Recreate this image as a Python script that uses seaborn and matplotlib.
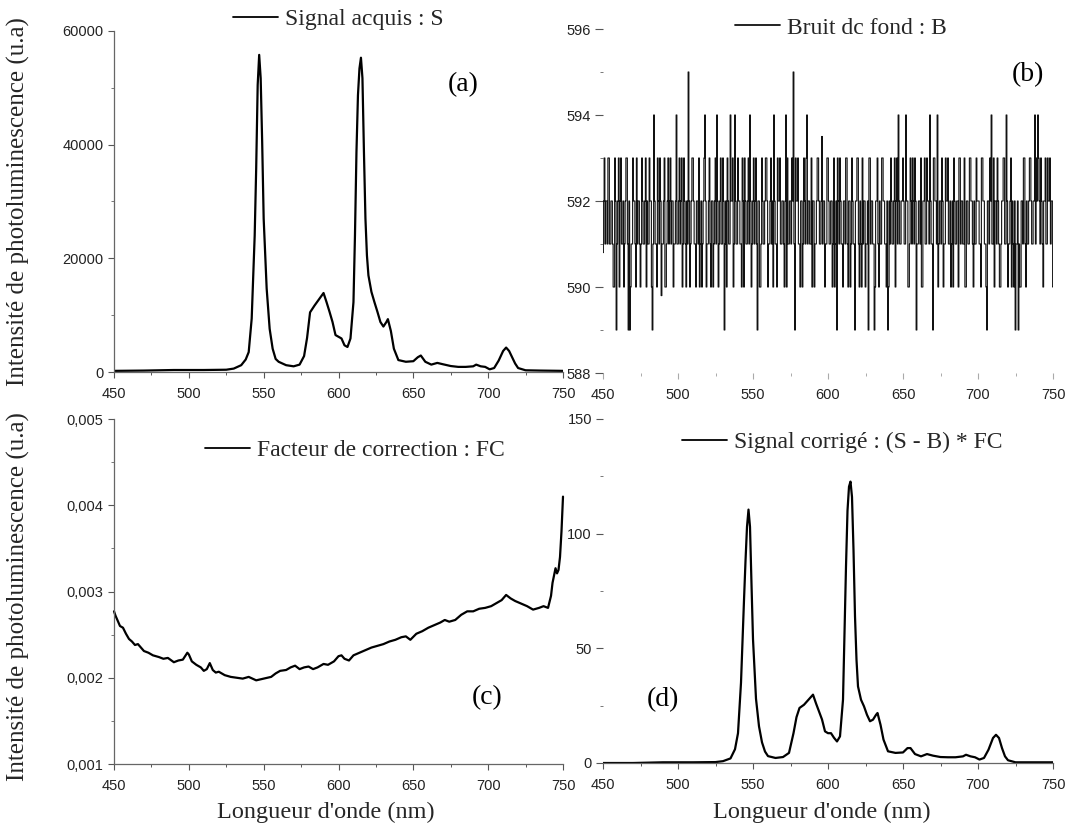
import matplotlib
matplotlib.use("Agg")
import matplotlib.pyplot as plt
import matplotlib.ticker as mticker
import pandas as pd
import seaborn as sns

# ---- data ------------------------------------------------------------------
# wavelengths (nm) shared by the acquired signal S and the corrected signal
wl = [450, 470, 490, 510, 525, 530, 535, 538, 540, 542,
      544, 545, 546, 547, 548, 549, 550, 552, 554, 556,
      558, 560, 565, 570, 574, 577, 579, 581, 584, 587,
      590, 592, 594, 596, 598, 600, 602, 604, 606, 608,
      610, 611, 612, 613, 614, 615, 616, 617, 618, 619,
      620, 622, 624, 626, 628, 630, 632, 633, 635, 637,
      640, 645, 650, 653, 655, 658, 662, 666, 670, 675,
      680, 685, 690, 692, 695, 698, 701, 704, 707, 710,
      712, 714, 716, 718, 720, 725, 735, 750]

signal_s = [200, 250, 350, 350, 400, 600, 1200, 2200, 3500, 9400,
            24000, 35800, 50500, 55800, 51700, 40500, 27000, 14700, 7600, 4100,
            2300, 1800, 1200, 1000, 1300, 2800, 6000, 10500, 11700, 12800,
            13900, 12300, 10600, 8800, 6500, 6200, 5900, 4700, 4400, 5900,
            12300, 24000, 38700, 48700, 53400, 55300, 51700, 38700, 27000, 20500,
            17000, 14100, 12300, 10600, 8800, 8000, 8800, 9300, 7200, 4100,
            2100, 1800, 1900, 2600, 2900, 1800, 1300, 1600, 1350, 1050,
            900, 900, 1000, 1300, 1000, 900, 470, 700, 2000, 3700,
            4300, 3700, 2600, 1500, 700, 300, 250, 200]

signal_corr = [0, 0, 0.3, 0.3, 0.4, 0.8, 2, 6, 13, 35,
               71, 88, 103, 110.5, 103, 78, 54, 28, 16, 9,
               5, 3, 2.2, 2.6, 4.4, 13, 20, 24, 25.4, 27.6,
               29.8, 26, 22.5, 19, 13.8, 13, 13, 11, 9.4, 11.6,
               27.6, 56.6, 85.7, 110, 120.5, 122.7, 116, 93, 64, 45,
               33.4, 27.6, 24.7, 21, 18.2, 18.9, 21, 21.8, 16.7, 10.2,
               5.1, 4.4, 4.6, 6.5, 6.5, 3.9, 2.9, 3.9, 3.2, 2.6,
               2.5, 2.5, 2.9, 3.6, 2.9, 2.5, 1.5, 2.2, 5.8, 10.9,
               12.3, 10.9, 6.5, 2.9, 1.2, 0.3, 0.3, 0.3]

# correction factor FC
fc_wl = [450, 451, 452, 453, 454, 456, 458, 460, 462, 464,
         466, 468, 470, 473, 476, 480, 483, 486, 490, 493,
         496, 499, 500, 502, 505, 508, 510, 512, 514, 516,
         518, 520, 524, 528, 532, 536, 540, 545, 550, 555,
         558, 561, 565, 568, 571, 574, 577, 580, 583, 586,
         590, 593, 597, 600, 602, 604, 607, 610, 614, 618,
         622, 626, 630, 634, 638, 642, 645, 648, 652, 656,
         660, 664, 668, 671, 674, 678, 682, 686, 690, 694,
         698, 702, 706, 709, 712, 715, 718, 722, 726, 730,
         734, 737, 740, 742, 743, 745, 746, 747, 748, 749,
         750]

fc_vals = [0.00277, 0.00272, 0.00268, 0.00264, 0.00260, 0.00258, 0.00251, 0.00245, 0.00242, 0.00238,
           0.00239, 0.00235, 0.00231, 0.00229, 0.00226, 0.00224, 0.00222, 0.00223, 0.00218, 0.00220,
           0.00221, 0.00229, 0.00227, 0.00219, 0.00215, 0.00212, 0.00208, 0.00210, 0.00217, 0.00209,
           0.00206, 0.00207, 0.00203, 0.00201, 0.00200, 0.00199, 0.00201, 0.00197, 0.00199, 0.00201,
           0.00205, 0.00208, 0.00209, 0.00212, 0.00214, 0.00210, 0.00212, 0.00213, 0.00210, 0.00212,
           0.00216, 0.00215, 0.00219, 0.00225, 0.00226, 0.00222, 0.00220, 0.00226, 0.00229, 0.00232,
           0.00235, 0.00237, 0.00239, 0.00242, 0.00244, 0.00247, 0.00248, 0.00244, 0.00251, 0.00254,
           0.00258, 0.00261, 0.00264, 0.00267, 0.00265, 0.00267, 0.00273, 0.00277, 0.00277, 0.00280,
           0.00281, 0.00283, 0.00287, 0.00290, 0.00296, 0.00292, 0.00289, 0.00286, 0.00283, 0.00279,
           0.00281, 0.00283, 0.00281, 0.00295, 0.00310, 0.00327, 0.00321, 0.00325, 0.00340, 0.00370,
           0.00410]

# background noise B, readings at whole nm from 450 to 750
noise_b = [
    590.8, 593, 592, 591, 593, 591, 592, 590, 593, 589, 592, 590, 593, 591, 590, 592, 593, 589, 589, 591, 593, 592, 590, 591, 592,
    590, 593, 591, 592, 590, 591, 593, 592, 589, 594, 591, 590, 592, 593, 589.8, 591, 593, 590, 592, 591, 593, 592, 590, 591, 594,
    591, 593, 592, 590, 593, 591, 592, 595, 590, 592, 593, 591, 590, 592, 593, 591, 590, 592, 594, 590, 591, 593, 590, 592, 591,
    593, 594, 590, 592, 591, 593, 589, 592, 593, 591, 594, 592, 590, 594, 591, 593, 592, 591, 593, 590, 592, 591, 593, 594, 590,
    592, 591, 593, 589, 592, 590, 593, 591, 592, 593, 590, 591, 593, 592, 594, 591, 590, 592, 593, 591, 592, 590, 594, 593, 591,
    592, 593, 595, 589, 592, 593, 591, 592, 590, 593, 591, 594, 592, 591, 593, 592, 590, 591, 593, 592, 591, 593.5, 592, 590, 591,
    593, 591, 592, 590, 593, 591, 589, 592, 593, 591, 590, 592, 593, 591, 592, 590, 593, 591, 589, 592, 593, 590, 591, 593, 592,
    590, 591, 589, 593, 592, 591, 589, 592, 593, 590, 591, 593, 592, 591, 590, 589, 592, 593, 591, 592, 590, 593, 594, 591, 592,
    593, 591, 594, 592, 590, 593, 591, 592, 593, 589, 591, 592, 593, 590, 592, 591, 593, 592, 594, 591, 589, 593, 592, 594, 591,
    592, 593, 590, 591, 592, 593, 591, 590, 592, 593, 591, 592, 590, 593, 592, 591, 593, 590, 592, 591, 593, 592, 590, 591, 593,
    592, 591, 590, 593, 592, 591, 589, 592, 593, 594, 591, 590, 592, 593, 591, 590, 592, 593, 591, 594, 590, 591, 593, 592, 590,
    589, 591, 589, 590, 592, 591, 593, 590, 591, 592, 593, 591, 592, 594, 593, 594, 592, 593, 591, 592, 593, 591, 592, 593, 592,
    590,
]

# readings in between, at 450.5 ... 749.5 nm (mostly inside the dark 591-592 band)
noise_b_half = [
    592, 591, 592, 593, 591, 592, 591, 590, 592, 591, 593, 592, 591, 592, 591, 593, 591, 592, 590, 591, 592, 591, 593, 592, 591,
    591, 592, 591, 593, 592, 591, 592, 590, 591, 592, 591, 593, 591, 592, 591, 592, 590, 591, 593, 592, 591, 592, 591, 592, 591,
    592, 591, 593, 591, 592, 590, 591, 592, 591, 593, 592, 591, 592, 591, 590, 592, 591, 593, 592, 591, 592, 591, 592, 590, 592,
    591, 592, 591, 593, 591, 592, 591, 590, 592, 591, 592, 593, 591, 592, 591, 592, 591, 590, 592, 593, 591, 592, 591, 592, 591,
    593, 592, 591, 592, 590, 591, 592, 591, 593, 592, 591, 592, 591, 590, 592, 591, 593, 592, 591, 592, 591, 592, 590, 591, 592,
    591, 592, 591, 593, 592, 591, 590, 592, 591, 592, 593, 591, 592, 591, 590, 592, 591, 592, 593, 591, 592, 591, 592, 591, 593,
    592, 591, 592, 591, 590, 592, 593, 591, 592, 591, 592, 591, 593, 590, 592, 591, 592, 591, 592, 593, 591, 592, 590, 591, 592,
    591, 592, 593, 591, 592, 591, 590, 592, 591, 592, 591, 593, 592, 591, 592, 590, 591, 592, 591, 593, 592, 591, 592, 591, 592,
    592, 591, 592, 590, 591, 592, 593, 591, 592, 591, 592, 591, 590, 592, 593, 591, 592, 591, 592, 591, 593, 592, 591, 590, 592,
    591, 592, 591, 593, 592, 591, 592, 591, 590, 592, 591, 592, 593, 591, 592, 591, 590, 592, 591, 593, 592, 591, 592, 591, 592,
    592, 591, 593, 592, 591, 590, 592, 591, 592, 591, 593, 592, 591, 592, 590, 591, 592, 593, 591, 592, 591, 592, 590, 591, 592,
    591, 592, 591, 590, 592, 593, 591, 592, 591, 593, 592, 591, 592, 591, 592, 593, 591, 592, 590, 592, 591, 593, 592, 591, 592,
]

assert len(wl) == len(signal_s) == len(signal_corr)
assert len(fc_wl) == len(fc_vals)
assert len(noise_b) == 301 and len(noise_b_half) == 300

noise_df = pd.concat([
    pd.DataFrame({"wl": [450 + i for i in range(301)], "b": noise_b}),
    pd.DataFrame({"wl": [450.5 + i for i in range(300)], "b": noise_b_half}),
]).sort_values("wl")

W, H = 1070, 830
SERIF = ["Liberation Serif", "DejaVu Serif"]


def rect(left, top, right, bottom):
    # pixel box -> figure fraction
    return [left / W, 1 - bottom / H, (right - left) / W, (bottom - top) / H]


def style_axes(ax, ylim, ymajor, yminor, left_spine=True, bottom_spine=True, xtick_color="#555555"):
    ax.set_facecolor("none")
    ax.set_xlim(450, 750)
    ax.set_ylim(*ylim)
    ax.xaxis.set_major_locator(mticker.MultipleLocator(50))
    ax.xaxis.set_minor_locator(mticker.MultipleLocator(25))
    ax.yaxis.set_major_locator(mticker.MultipleLocator(ymajor))
    ax.yaxis.set_minor_locator(mticker.MultipleLocator(yminor))
    for side in ["top", "right"]:
        ax.spines[side].set_visible(False)
    ax.spines["left"].set_visible(left_spine)
    ax.spines["bottom"].set_visible(bottom_spine)
    for side in ["left", "bottom"]:
        ax.spines[side].set_color("#666666")
        ax.spines[side].set_linewidth(0.9)
    ax.tick_params(axis="both", which="major", direction="out", length=4.5, width=0.8,
                   color="#555555", labelsize=10.5, labelcolor="#222222")
    ax.tick_params(axis="both", which="minor", direction="out", length=2.5, width=0.7, color="#777777")
    ax.tick_params(axis="x", which="both", pad=6, color=xtick_color)
    ax.tick_params(axis="y", which="major", pad=3)
    ax.set_xlabel("")
    ax.set_ylabel("")


def add_legend(ax, x, y):
    leg = ax.legend(loc="center left", bbox_to_anchor=(x, y), frameon=False,
                    handlelength=1.9, handletextpad=0.3, borderpad=0, borderaxespad=0,
                    prop={"family": SERIF, "size": 17})
    for line in leg.get_lines():
        line.set_linewidth(1.3)
        line.set_drawstyle("default")


def panel_tag(ax, x, y, tag):
    ax.text(x, y, tag, transform=ax.transAxes, ha="center", va="center",
            fontsize=20, family=SERIF, color="black")


sns.set_theme(style="ticks")
plt.rcParams["font.family"] = ["Liberation Sans", "DejaVu Sans"]

fig = plt.figure(figsize=(W / 100, H / 100), dpi=100)
fig.patch.set_facecolor("white")

ax_a = fig.add_axes(rect(114, 31, 563, 372))
ax_b = fig.add_axes(rect(603, 29, 1053, 373))
ax_c = fig.add_axes(rect(114, 419, 563, 764))
ax_d = fig.add_axes(rect(603, 419, 1053, 763))

# (a) acquired signal
sns.lineplot(x=wl, y=signal_s, ax=ax_a, color="black", linewidth=1.6,
             estimator=None, sort=False, label="Signal acquis : S")
style_axes(ax_a, (0, 60000), 20000, 10000)
add_legend(ax_a, 0.265, 1.035)
panel_tag(ax_a, 0.777, 0.842, "(a)")

# (b) background noise, drawn as steps so every reading shows as a vertical stroke
sns.lineplot(data=noise_df, x="wl", y="b", ax=ax_b, color="#111111", linewidth=0.8,
             estimator=None, sort=False, drawstyle="steps-mid", label="Bruit dc fond : B")
style_axes(ax_b, (588, 596), 2, 1, left_spine=False, bottom_spine=False, xtick_color="#aaaaaa")
ax_b.tick_params(axis="y", which="major", length=6)
add_legend(ax_b, 0.293, 1.003)
panel_tag(ax_b, 0.944, 0.866, "(b)")

# (c) correction factor
sns.lineplot(x=fc_wl, y=fc_vals, ax=ax_c, color="black", linewidth=1.6,
             estimator=None, sort=False, label="Facteur de correction : FC")
style_axes(ax_c, (0.001, 0.005), 0.001, 0.0005)
ax_c.yaxis.set_major_formatter(mticker.FuncFormatter(lambda v, p: f"{v:.3f}".replace(".", ",")))
for ln in ax_c.get_lines():
    ln.set_clip_on(False)
add_legend(ax_c, 0.203, 0.910)
panel_tag(ax_c, 0.831, 0.191, "(c)")

# (d) corrected signal
sns.lineplot(x=wl, y=signal_corr, ax=ax_d, color="black", linewidth=1.6,
             estimator=None, sort=False, label="Signal corrigé : (S - B) * FC")
style_axes(ax_d, (0, 150), 50, 25, left_spine=False)
ax_d.tick_params(axis="y", which="major", length=5)
add_legend(ax_d, 0.176, 0.933)
panel_tag(ax_d, 0.133, 0.183, "(d)")

# shared axis titles
ylab = "Intensité de photoluminescence (u.a)"
fig.text(18 / W, 1 - 202 / H, ylab, rotation=90, ha="center", va="center", fontsize=18, family=SERIF)
fig.text(18 / W, 1 - 597 / H, ylab, rotation=90, ha="center", va="center", fontsize=18, family=SERIF)
fig.text(326 / W, 1 - 812 / H, "Longueur d'onde (nm)", ha="center", va="center", fontsize=17.5, family=SERIF)
fig.text(822 / W, 1 - 812 / H, "Longueur d'onde (nm)", ha="center", va="center", fontsize=17.5, family=SERIF)

fig.savefig("out.png", dpi=100, facecolor="white")
